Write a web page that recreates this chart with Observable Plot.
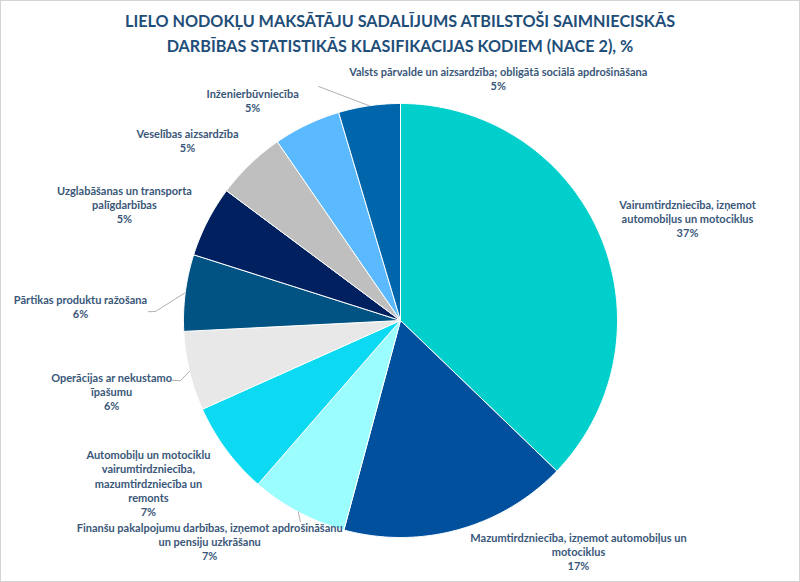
<!DOCTYPE html>
<html><head><meta charset="utf-8">
<script src="https://cdn.jsdelivr.net/npm/d3@7"></script>
<script src="https://cdn.jsdelivr.net/npm/@observablehq/plot@0.6"></script>
<style>
body{margin:0;background:#fff;}
#wrap{position:relative;width:800px;height:582px;overflow:hidden;background:#fff;font-family:Lato,"Open Sans",sans-serif;}
#title{height:60px;box-sizing:border-box;padding-top:8px;text-align:center;font-weight:700;font-size:16.2px;line-height:25px;color:#1F4E79;letter-spacing:0;}
#frame{position:absolute;left:0;top:0;width:800px;height:582px;box-sizing:border-box;border:1px solid #d4d4d4;pointer-events:none;}
</style></head>
<body>
<div id="wrap">
  <div id="title">LIELO NODOKĻU MAKSĀTĀJU SADALĪJUMS ATBILSTOŠI SAIMNIECISKĀS<br>DARBĪBAS STATISTIKĀS KLASIFIKACIJAS KODIEM (NACE 2), %</div>
  <div id="chart"></div>
  <div id="frame"></div>
</div>
<script>
// ---- data ----
const categories = [
  "Vairumtirdzniecība, izņemot\nautomobiļus un motociklus",
  "Mazumtirdzniecība, izņemot automobiļus un\nmotociklus",
  "Finanšu pakalpojumu darbības, izņemot apdrošināšanu\nun pensiju uzkrāšanu",
  "Automobiļu un motociklu\nvairumtirdzniecība,\nmazumtirdzniecība un\nremonts",
  "Operācijas ar nekustamo\nīpašumu",
  "Pārtikas produktu ražošana",
  "Uzglabāšanas un transporta\npalīgdarbības",
  "Veselības aizsardzība",
  "Inženierbūvniecība",
  "Valsts pārvalde un aizsardzība; obligātā sociālā apdrošināšana"
];
const values = [37.2, 17.0, 7.2, 6.9, 5.9, 5.7, 5.3, 5.2, 5.0, 4.6];
const shareLabels = ["37%", "17%", "7%", "7%", "6%", "6%", "5%", "5%", "5%", "5%"];

// ---- style / layout ----
const colors = ["#00CFCB", "#00509E", "#9BFDFD", "#0BDAF2", "#E8E8E8", "#005382", "#002060", "#BFBFBF", "#5BBAFF", "#0066AC"];
// label block centre in polar form: [angle (deg, clockwise from top), radius (× pie radius)]
const labelPolar = [[70.4,1.404],[142.4,1.344],[220.8,1.346],[237.2,1.382],[256.2,1.371],[272.5,1.476],[292.8,1.380],[310.2,1.285],[326.1,1.222],[22.0,1.203]];
// leader line extra points (polar), starting from the slice edge at mid angle
const leaderPolar = {9:[[340.7,1.143]], 5:[[272.1,1.130],[272.0,1.162]], 4:[[254.7,1.051],[255.3,1.087]], 2:[[206.5,1.035]]};

const W = 800, H = 522, R = 217, cx = 400, cy = 260;
const rad = d => d * Math.PI / 180;
const polar = (a, r) => ({x: r * Math.sin(a), y: r * Math.cos(a)});

const arcs = d3.pie().sort(null).value(d => d)(values);

const sliceMarks = arcs.map((a, i) => {
  const pts = [{x: 0, y: 0}];
  const n = Math.max(3, Math.ceil((a.endAngle - a.startAngle) / rad(0.5)));
  for (let k = 0; k <= n; k++) pts.push(polar(a.startAngle + (a.endAngle - a.startAngle) * k / n, 1));
  pts.push({x: 0, y: 0});
  return Plot.line(pts, {x: "x", y: "y", fill: colors[i], stroke: "white", strokeWidth: 1, curve: "linear"});
});

const leaderPts = [];
Object.entries(leaderPolar).forEach(([k, list]) => {
  const a = arcs[+k];
  const mid = (a.startAngle + a.endAngle) / 2;
  leaderPts.push({z: k, ...polar(mid, 1)});
  list.forEach(([ang, r]) => leaderPts.push({z: k, ...polar(rad(ang), r)}));
});

const labelData = categories.map((c, i) => ({
  text: c + "\n" + shareLabels[i],
  ...polar(rad(labelPolar[i][0]), labelPolar[i][1])
}));

const chart = Plot.plot({
  width: W, height: H,
  marginTop: 0, marginBottom: 0, marginLeft: 0, marginRight: 0,
  x: {domain: [-cx / R, (W - cx) / R], axis: null},
  y: {domain: [-(H - cy) / R, cy / R], axis: null},
  style: {fontFamily: "Lato, 'Open Sans', sans-serif", background: "transparent"},
  marks: [
    ...sliceMarks,
    Plot.line(leaderPts, {x: "x", y: "y", z: "z", stroke: "#a6a6a6", strokeWidth: 0.9}),
    Plot.text(labelData, {x: "x", y: "y", text: "text", fill: "#3A5779", fontSize: 11, fontWeight: 700, lineHeight: 1.3, textAnchor: "middle", lineAnchor: "middle"})
  ]
});
document.getElementById("chart").appendChild(chart);
</script>
</body></html>
